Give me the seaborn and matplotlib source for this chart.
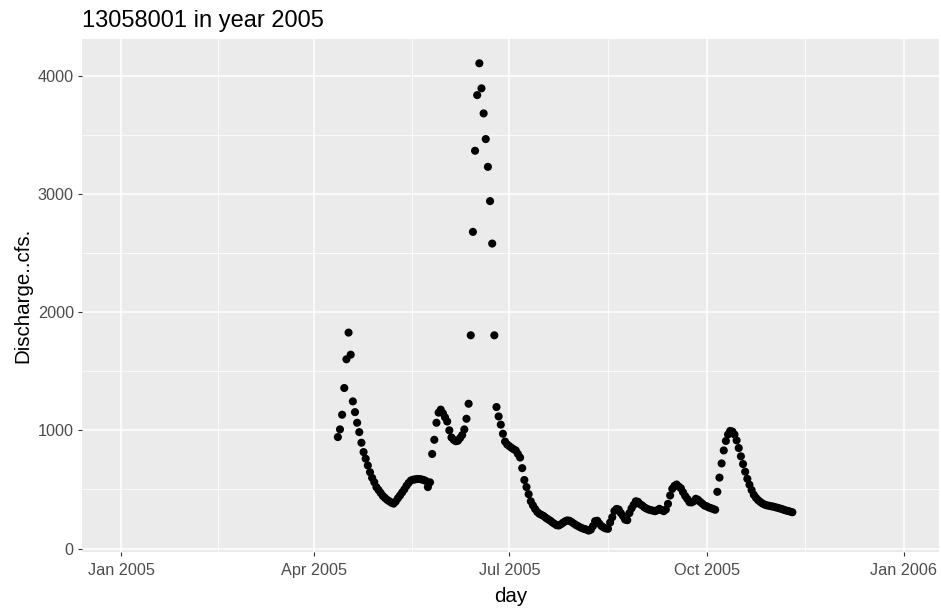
import pandas as pd
import matplotlib
matplotlib.use("Agg")
import matplotlib.pyplot as plt
import matplotlib.dates as mdates
from matplotlib.ticker import FixedLocator
import seaborn as sns

# Daily mean discharge (cfs) for gauge 13058001, 2005, one value per day
station = "13058001"
year = 2005
first_day = "2005-04-12"

apr = [943, 1008, 1132, 1358, 1601, 1827, 1640, 1245, 1154, 1064, 985, 895,
       816, 760, 703, 646, 598, 561, 519]
may = [495, 470, 445, 428, 412, 400, 388, 380, 398, 425, 449, 475, 500, 530,
       555, 575, 582, 585, 588, 588, 585, 580, 572, 520, 560, 800, 920, 1064,
       1150, 1175, 1145]
jun = [1110, 1075, 1000, 940, 920, 908, 912, 935, 960, 1008, 1098, 1225, 1804,
       2679, 3365, 3836, 4105, 3893, 3681, 3464, 3229, 2939, 2580, 1804, 1197,
       1118, 1048, 971, 905, 880]
jul = [866, 852, 840, 830, 800, 770, 680, 580, 520, 460, 400, 365, 335, 310,
       294, 285, 275, 260, 248, 237, 222, 210, 198, 195, 205, 218, 230, 238,
       235, 225, 212]
aug = [200, 190, 180, 172, 165, 160, 152, 160, 190, 232, 235, 210, 190, 178,
       170, 167, 220, 265, 318, 335, 330, 300, 275, 245, 240, 300, 340, 370,
       400, 395, 375]
sep = [364, 348, 338, 330, 325, 320, 316, 325, 336, 325, 316, 330, 378, 449,
       505, 530, 542, 525, 510, 477, 445, 420, 392, 390, 400, 421, 412, 395,
       380, 364]
oct_ = [358, 348, 342, 335, 328, 480, 600, 720, 830, 910, 965, 995, 990, 965,
        915, 850, 780, 715, 650, 590, 540, 495, 455, 430, 410, 395, 382, 372,
        366, 362, 358]
nov = [355, 350, 345, 340, 335, 328, 322, 318, 312, 307]

tick_dates = ["2005-01-01", "2005-04-01", "2005-07-01", "2005-10-01", "2006-01-01"]
y_major = [0, 1000, 2000, 3000, 4000]
y_minor = [500, 1500, 2500, 3500]

discharge = apr + may + jun + jul + aug + sep + oct_ + nov
days = pd.date_range(first_day, periods=len(discharge), freq="D")
df = pd.DataFrame({"day": days, "Discharge..cfs.": discharge})

sns.set_theme(style="darkgrid", rc={
    "axes.facecolor": "#EBEBEB",
    "grid.color": "white",
    "axes.edgecolor": "none",
})
plt.rcParams["font.family"] = ["Liberation Sans", "DejaVu Sans"]

W, H = 941, 608
fig = plt.figure(figsize=(W / 100, H / 100), dpi=100)
left, right, top, bottom = 81.7, 939.0, 39.3, 551.5
ax = fig.add_axes([left / W, 1 - bottom / H, (right - left) / W, (bottom - top) / H])

sns.scatterplot(data=df, x="day", y="Discharge..cfs.", color="black", s=34,
                edgecolor="none", linewidth=0, ax=ax)

# x range: the calendar year with ggplot-style padding on both sides
x0 = pd.Timestamp(f"{year}-01-01")
ax.set_xlim(x0 - pd.Timedelta(days=18.47), x0 + pd.Timedelta(days=381.4))
ax.set_ylim(-25, 4308)

major = [mdates.date2num(pd.Timestamp(d)) for d in tick_dates]
minor = [(a + b) / 2 for a, b in zip(major[:-1], major[1:])]
ax.xaxis.set_major_locator(FixedLocator(major))
ax.xaxis.set_minor_locator(FixedLocator(minor))
ax.xaxis.set_major_formatter(mdates.DateFormatter("%b %Y"))
ax.yaxis.set_major_locator(FixedLocator(y_major))
ax.yaxis.set_minor_locator(FixedLocator(y_minor))

ax.grid(which="major", color="white", linewidth=1.1)
ax.grid(which="minor", color="white", linewidth=0.55)
ax.set_axisbelow(True)

ax.tick_params(axis="both", which="major", length=3.2, width=0.8,
               color="#333333", labelcolor="#4D4D4D", labelsize=11.7,
               bottom=True, left=True)
ax.tick_params(axis="x", which="major", pad=5.4)
ax.tick_params(axis="y", which="major", pad=2.5)
ax.tick_params(axis="both", which="minor", length=0)

ax.set_xlabel("day", fontsize=14.8, color="black", labelpad=6)
ax.set_ylabel("Discharge..cfs.", fontsize=14.8, color="black", labelpad=4)
ax.set_title(f"{station} in year {year}", loc="left", fontsize=17, pad=9,
             color="black")

fig.savefig("out.png", dpi=100, facecolor="white")
